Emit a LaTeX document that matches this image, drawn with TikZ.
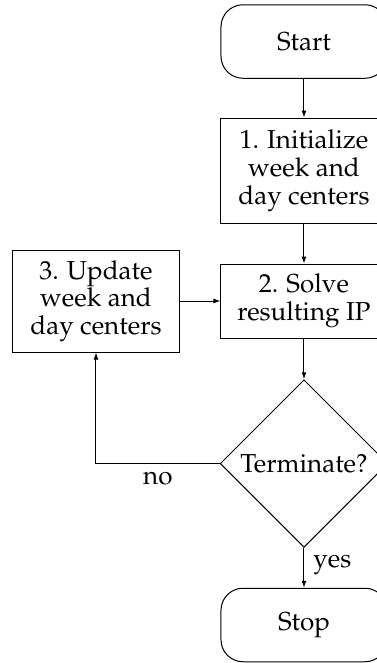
\documentclass[tikz,border=0pt]{standalone}
\usepackage[T1]{fontenc}
\usepackage{mathpazo}
\usetikzlibrary{arrows.meta,shapes.geometric}

\tikzset{
  base/.style={draw, line width=0.4pt, inner sep=0pt, align=center,
    font=\fontsize{10.4}{11.1}\selectfont},
  terminal/.style={base, rounded corners=8.8pt, minimum width=66.4pt, minimum height=29.4pt},
  process/.style={base, minimum width=66.4pt},
  decision/.style={base, diamond, aspect=1, minimum width=67pt, minimum height=67pt},
  flow/.style={-{Latex[length=2.8pt,width=2pt]}, line width=0.4pt},
  lbl/.style={font=\fontsize{10.4}{11.1}\selectfont, inner sep=0pt}
}

\begin{document}
\begin{tikzpicture}[x=0.4pt, y=-0.4pt]
  \path[use as bounding box, clip] (0,0) rectangle (377,663);

  % nodes
  \node[terminal] (start) at (304,41.5) {Start};
  \node[process, minimum height=42pt] (init) at (304,170.5) {1. Initialize\\week and\\day centers};
  \node[process, minimum height=29.6pt] (solve) at (304,301) {2. Solve\\resulting IP};
  \node[process, minimum height=40.8pt] (update) at (96,301) {3. Update\\week and\\day centers};
  \node[decision] (term) at (304,463.5) {Terminate?};
  \node[terminal] (stop) at (304,625) {Stop};

  % connectors
  \draw[flow] (start) -- (init);
  \draw[flow] (init) -- (solve);
  \draw[flow] (solve) -- (term);
  \draw[flow] (term) -- node[lbl, right=3.6pt, pos=0.42] {yes} (stop);
  \draw[flow] (term.west) -- node[lbl, below=3.2pt, pos=0.5] {no} (term.west -| update.south) -- (update.south);
  \draw[flow] (update) -- (solve);
\end{tikzpicture}
\end{document}
